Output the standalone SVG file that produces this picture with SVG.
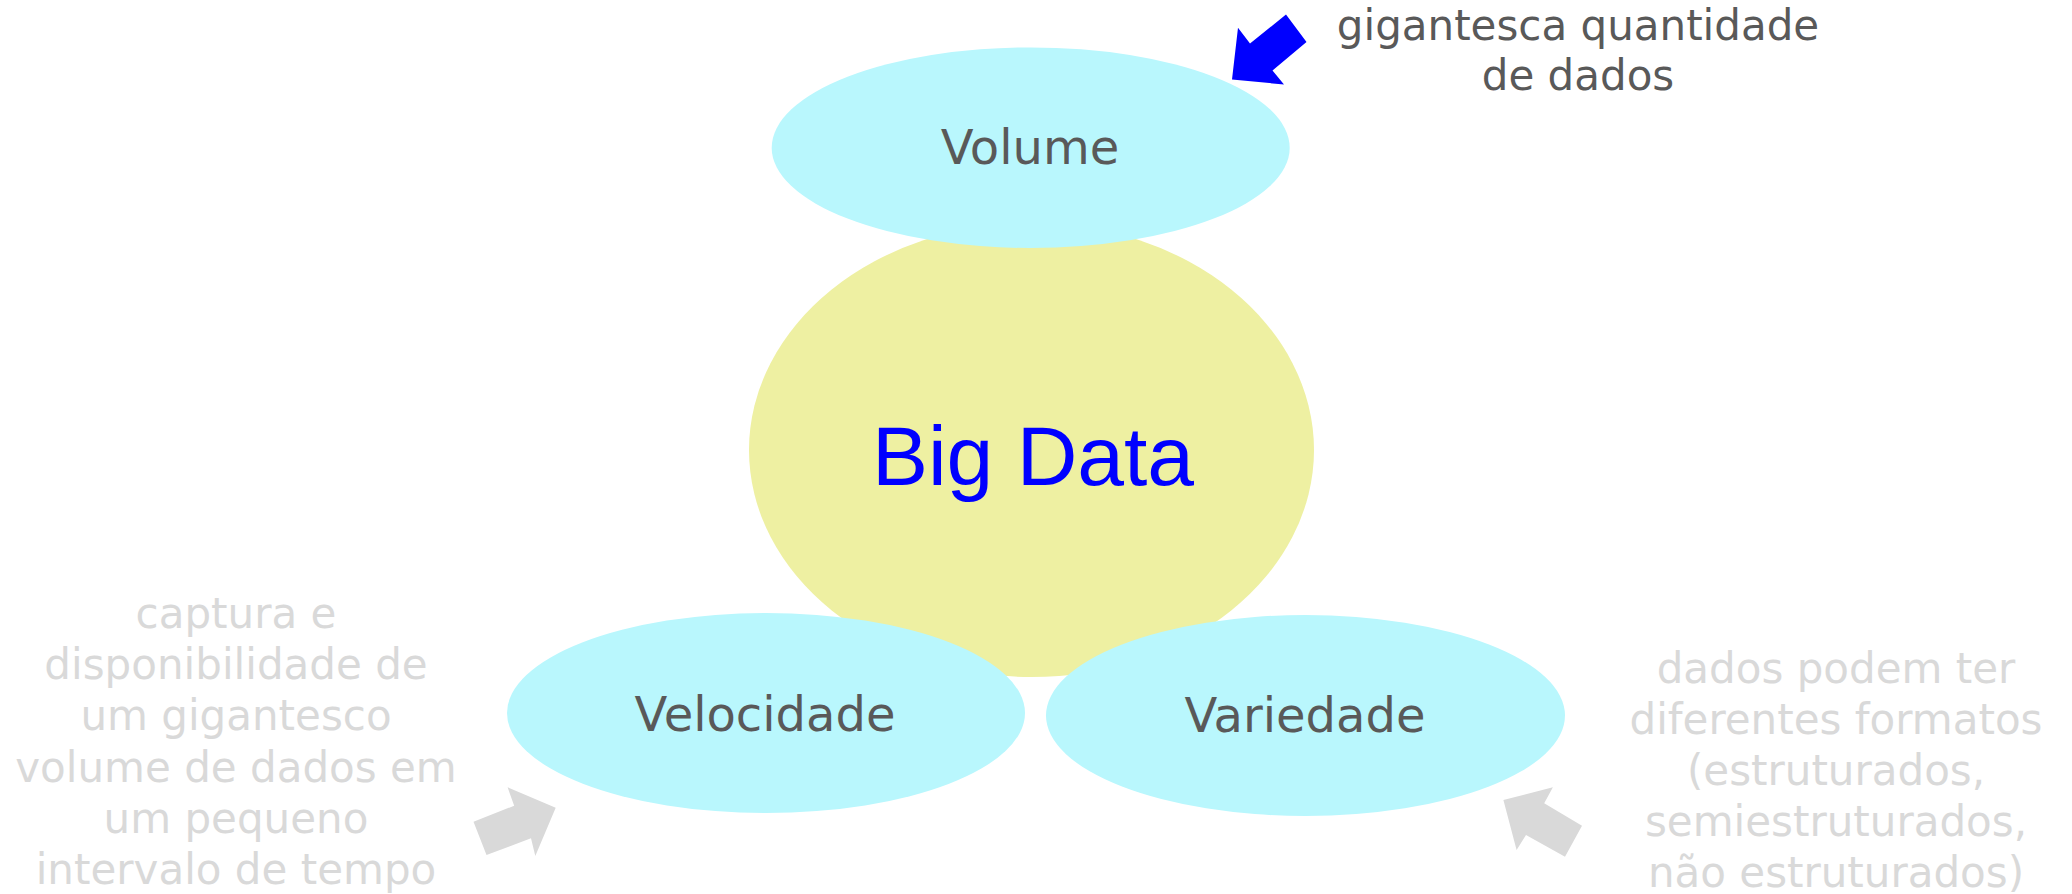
<svg xmlns="http://www.w3.org/2000/svg" width="2072" height="894" viewBox="0 0 2072 894">
<style>
.bg{fill:#FFFFFF}
.core{fill:#EEF0A2}
.v{fill:#B9F7FD}
.core-t{font-family:"Liberation Sans",Arial,sans-serif;font-size:84px;fill:#0000FF;text-anchor:middle}
.v-t{font-family:"DejaVu Sans",sans-serif;font-size:48px;fill:#595959;text-anchor:middle}
.note{font-family:"DejaVu Sans",sans-serif;font-size:42px;text-anchor:middle}
.dark{fill:#595959}
.light{fill:#D9D9D9}
.arr-blue{fill:#0000FF}
.arr-gray{fill:#D9D9D9}
</style>
<rect class="bg" x="0" y="0" width="2072" height="894"/>
<g id="big-data">
<ellipse class="core" cx="1031.5" cy="450" rx="282.5" ry="227"/>
<text class="core-t" x="1033" y="485">Big Data</text>
</g>
<g id="volume">
<ellipse class="v" cx="1030.7" cy="147.7" rx="259" ry="100.3"/>
<text class="v-t" x="1030" y="164">Volume</text>
</g>
<g id="velocidade">
<ellipse class="v" cx="766" cy="713" rx="259" ry="100"/>
<text class="v-t" x="765" y="731">Velocidade</text>
</g>
<g id="variedade">
<ellipse class="v" cx="1305.5" cy="715.5" rx="259.5" ry="100.5"/>
<text class="v-t" x="1305" y="732">Variedade</text>
</g>
<g id="connectors">
<polygon class="arr-blue" points="1232,79.5 1284,84.5 1272.5,70.5 1306.5,42 1286,14.5 1250,43.6 1238,27.7"/>
<polygon class="arr-gray" points="473.5,821.7 486.5,855 531,838.3 535.3,856 555.7,807.7 507.6,787.3 514.2,805.7"/>
<polygon class="arr-gray" points="1503.4,800 1516.6,850 1526,835 1565,856.7 1582,825.7 1544.2,803.3 1552.9,787.3"/>
</g>
<g id="note-volume">
<text class="note dark" x="1578" y="40">gigantesca quantidade</text>
<text class="note dark" x="1578" y="90">de dados</text>
</g>
<g id="note-velocidade">
<text class="note light" x="236" y="628">captura e</text>
<text class="note light" x="236" y="679">disponibilidade de</text>
<text class="note light" x="236" y="730">um gigantesco</text>
<text class="note light" x="236" y="782">volume de dados em</text>
<text class="note light" x="236" y="833">um pequeno</text>
<text class="note light" x="236" y="884">intervalo de tempo</text>
</g>
<g id="note-variedade">
<text class="note light" x="1836" y="683">dados podem ter</text>
<text class="note light" x="1836" y="734">diferentes formatos</text>
<text class="note light" x="1836" y="785">(estruturados,</text>
<text class="note light" x="1836" y="836">semiestruturados,</text>
<text class="note light" x="1836" y="887">não estruturados)</text>
</g>
</svg>
